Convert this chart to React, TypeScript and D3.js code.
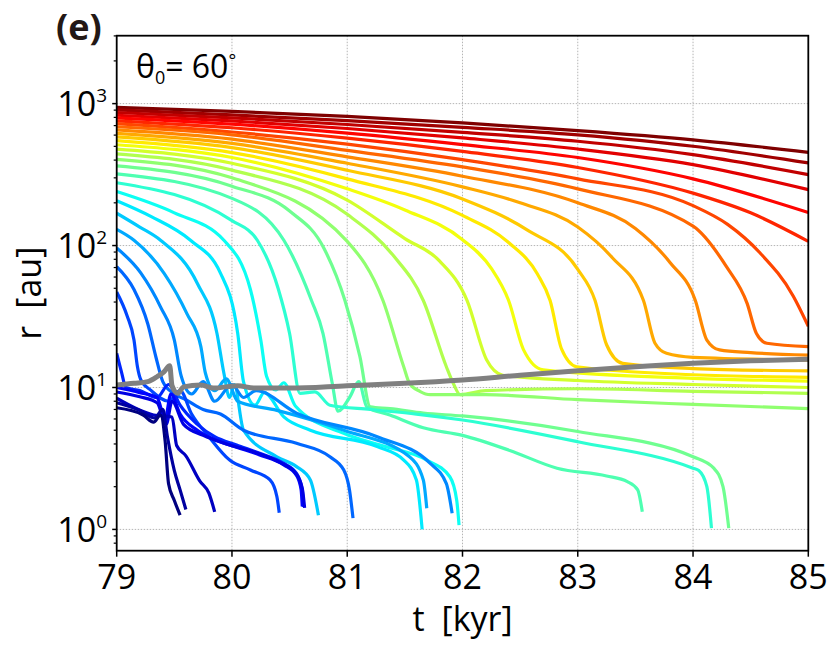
import React from "react";
import * as d3 from "d3";

// particle tracks: [t (kyr), r (au)], top (red) to bottom (blue)
const p00 = [[79, 940], [80, 881], [81, 813], [82, 731], [83, 646], [84, 556], [85, 454]];
const p01 = [[79, 903], [80, 832], [81, 759], [82, 681], [83, 603], [84, 501], [85, 382]];
const p02 = [[79, 866], [80, 794], [81, 713], [82, 628], [83, 543], [84, 437], [85, 316]];
const p03 = [[79, 828], [80, 755], [81, 668], [82, 573], [83, 479], [84, 372], [85, 248]];
const p04 = [[79, 793], [80, 716], [81, 619], [82, 514], [83, 417], [84, 295], [85, 171]];
const p05 = [[79, 757], [80, 676], [81, 571], [82, 461], [83, 355], [84, 234], [84.5, 170], [85, 107]];
const p06 = [[79, 722], [80, 631], [81, 519], [82, 403], [83, 295], [84, 191], [84.3, 141], [84.58, 89], [84.87, 44], [85, 27]];
const p07 = [[79, 687], [80, 603], [81, 468], [82, 358], [83, 251], [84, 137], [84.29, 71], [84.47, 39], [84.55, 24], [84.64, 20.5], [85, 19.4]];
const p08 = [[79, 653], [80, 562], [81, 422], [82, 308], [83, 200], [83.5, 132], [83.8, 76], [84.02, 41], [84.12, 21.6], [84.23, 18.4], [84.5, 17.6], [85, 16.9]];
const p09 = [[79, 618], [80, 525], [81, 380], [82, 259], [82.5, 200], [83, 135], [83.3, 82], [83.57, 41], [83.67, 20.5], [83.77, 17.4], [84, 16.3], [85, 15.6]];
const p10 = [[79, 583], [80, 490], [81, 339], [82, 213], [82.56, 129], [83, 68], [83.15, 41], [83.25, 20], [83.39, 14.8], [84, 13.6], [85, 13.1]];
const p11 = [[79, 548], [80, 452], [81, 295], [82, 163], [82.4, 105], [82.65, 63], [82.76, 41], [82.86, 18.6], [82.99, 14], [84, 12.3], [85, 11.8]];
const p12 = [[79, 513], [80, 417], [81, 251], [81.5, 178], [82, 110], [82.25, 69], [82.4, 41], [82.53, 18.4], [82.7, 13.3], [84, 11.6], [85, 11.1]];
const p13 = [[79, 478], [80, 380], [81, 209], [81.5, 112], [81.8, 78], [82.04, 41], [82.21, 15.6], [82.35, 12.2], [83, 11.2], [84, 10.5], [85, 10]];
const p14 = [[79, 442], [80, 340], [81, 166], [81.4, 85], [81.66, 41], [81.86, 14], [81.92, 10.7], [81.98, 8.9], [82.2, 9.5], [83, 9.8], [84, 9.4], [85, 9.1]];
const p15 = [[79, 405], [80, 300], [81, 107], [81.31, 41], [81.49, 14], [81.54, 10.7], [81.63, 9.4], [81.72, 8.9], [82.2, 8.9], [83, 8.2], [84, 7.6], [85, 7.1]];
const p16 = [[79, 364], [80, 262], [80.5, 175], [80.8, 95], [80.98, 41], [81.11, 16.5], [81.2, 7.3], [81.37, 7.1], [81.66, 6.6], [82, 6.3], [83, 4.9], [84, 3.25], [84.18, 2.7], [84.26, 2.0], [84.31, 1.02]];
const p17 = [[79, 320], [80, 215], [80.45, 109], [80.69, 41], [80.79, 24], [80.87, 10.7], [80.92, 6.8], [81.02, 8.5], [81.1, 11], [81.17, 7.3], [81.37, 6.4], [81.66, 5.2], [82, 4.6], [82.41, 3.6], [82.82, 2.7], [83.25, 2.38], [83.43, 2.17], [83.52, 1.9], [83.56, 1.33]];
const p18 = [[79, 277], [80, 150], [80.22, 109], [80.4, 50], [80.5, 24], [80.59, 9.1], [80.72, 9.3], [80.85, 7.5], [81.2, 7], [81.6, 6.5], [82, 5.9], [83, 4.15], [84, 2.7], [84.05, 2.6], [84.12, 2], [84.16, 1.02]];
const p19 = [[79, 240], [79.5, 170], [79.93, 109], [80.16, 49], [80.25, 21.6], [80.3, 12], [80.38, 9.6], [80.45, 10.8], [80.55, 7.4], [80.97, 4.75], [81.3, 3.9], [81.69, 3.08], [81.89, 2.35], [81.95, 1.6], [81.97, 1.07]];
const p20 = [[79, 207], [79.3, 160], [79.64, 109], [79.9, 64], [80.05, 24], [80.1, 11], [80.2, 7.5], [80.28, 9.2], [80.45, 6.2], [80.68, 5], [81.26, 3.83], [81.49, 3.08], [81.6, 2.23], [81.65, 1]];
const p21 = [[79, 169], [79.2, 135], [79.38, 109], [79.7, 54], [79.87, 24], [79.93, 12.6], [79.98, 8.5], [80.02, 10.5], [80.1, 5], [80.39, 3.25], [80.56, 2.77], [80.68, 2.23], [80.75, 1.26]];
const p22 = [[79, 130], [79.15, 109], [79.41, 64], [79.61, 33], [79.73, 19.4], [79.77, 12.6], [79.85, 9.5], [79.95, 11.5], [80.05, 8], [80.39, 6.9], [80.97, 5], [81.54, 3.25], [81.66, 2.23], [81.69, 1.41]];
const p23 = [[79, 96], [79.21, 64], [79.38, 37], [79.5, 21.6], [79.56, 12], [79.65, 9], [79.75, 11], [79.85, 8], [80, 10.5], [80.1, 8.5], [80.21, 9.5], [80.56, 6.6], [81.26, 4.5], [81.72, 2.92], [81.86, 2.1], [81.91, 1.3]];
const p24 = [[79, 71], [79.15, 49], [79.27, 28], [79.34, 16.4], [79.4, 11], [79.5, 9], [79.6, 8.2], [79.75, 7], [79.9, 6.5], [80.1, 5], [80.56, 4.04], [80.85, 3.25], [80.97, 2.62], [81.02, 1.89], [81.05, 1.2]];
const p25 = [[79, 47], [79.09, 32], [79.15, 21.6], [79.18, 14], [79.21, 11.3], [79.3, 9.5], [79.45, 8], [79.55, 9.5], [79.65, 6.5], [79.8, 4.5], [79.98, 3.08], [80.16, 2.62], [80.33, 2.23], [80.39, 1.7], [80.41, 1.31]];
const p26 = [[79, 17.4], [79.04, 13], [79.08, 10], [79.2, 9.5], [79.35, 8.5], [79.45, 10.5], [79.55, 7.5], [79.7, 5.5], [79.85, 4.5], [80.04, 3.93], [80.24, 3.44], [80.45, 2.92], [80.56, 2.48], [80.61, 1.89], [80.62, 1.44]];
const p27 = [[79, 10], [79.2, 9.2], [79.35, 8.5], [79.42, 6], [79.47, 9], [79.55, 6.5], [79.7, 5], [79.85, 4.3], [80.04, 3.8], [80.24, 3.35], [80.45, 2.85], [80.56, 2.4], [80.6, 1.9], [80.61, 1.45]];
const p28 = [[79, 9.3], [79.2, 8.6], [79.35, 7.8], [79.43, 5.5], [79.48, 8], [79.58, 5.5], [79.75, 4.6], [79.95, 4], [80.2, 3.5], [80.42, 2.95], [80.55, 2.5], [80.61, 1.95], [80.63, 1.42]];
const p29 = [[79, 8.4], [79.32, 6.4], [79.48, 6.2], [79.52, 3.9], [79.6, 3.3], [79.72, 2.2], [79.8, 1.8], [79.85, 1.33]];
const p30 = [[79, 7.8], [79.2, 6.9], [79.33, 6.1], [79.4, 7], [79.44, 4.5], [79.5, 2.6], [79.55, 1.9], [79.6, 1.38]];
const p31 = [[79, 7.2], [79.23, 6.4], [79.32, 5.7], [79.38, 6.4], [79.42, 4.2], [79.45, 2.1], [79.5, 1.6], [79.55, 1.26]];

const particles = [
  p00, p01, p02, p03, p04, p05, p06, p07, p08, p09, p10, p11, p12, p13, p14, p15,
  p16, p17, p18, p19, p20, p21, p22, p23, p24, p25, p26, p27, p28, p29, p30, p31,
];

// gray line
const diskEdge = [[79, 10.4], [79.15, 10.7], [79.27, 11], [79.35, 11.9], [79.41, 12.9], [79.46, 14.2], [79.48, 10.3], [79.53, 9.1], [79.58, 10.1], [79.73, 10.4], [79.84, 9.9], [80.05, 10.3], [80.19, 9.9], [80.5, 9.9], [81, 10.3], [81.5, 10.7], [82, 11.3], [82.5, 12.2], [83, 13.1], [83.5, 14], [84, 14.8], [84.5, 15.4], [85, 15.8]];

const xTicks = [79, 80, 81, 82, 83, 84, 85];
const xGrid = [80, 81, 82, 83, 84];
const yMajor = [1, 10, 100, 1000];
const yExponents = ["0", "1", "2", "3"];
const yMinor = [0.8, 0.9, 2, 3, 4, 5, 6, 7, 8, 9, 20, 30, 40, 50, 60, 70, 80, 90, 200, 300, 400, 500, 600, 700, 800, 900, 2000, 3000];

const FONT = "'Open Sans', 'Noto Sans', sans-serif";

export default function App() {
  const left = 116.7, right = 808.3, top = 35.7, bottom = 550.7;

  const x = d3.scaleLinear().domain([79, 85]).range([left, right]);
  const y = d3.scaleLog().domain([0.708, 3010]).range([bottom, top]);

  const jet = d3
    .scaleLinear<string>()
    .domain([0, 0.125, 0.375, 0.625, 0.875, 1])
    .range(["#00007f", "#0000ff", "#00ffff", "#ffff00", "#ff0000", "#7f0000"])
    .interpolate(d3.interpolateRgb);

  const line = d3
    .line<number[]>()
    .x((d) => x(d[0]))
    .y((d) => y(d[1]))
    .curve(d3.curveMonotoneX);

  const n = particles.length;

  return (
    <svg
      width={831}
      height={649}
      style={{ position: "absolute", left: 0, top: 0, background: "#fff" }}
      fontFamily={FONT}
    >
      <defs>
        <clipPath id="plot">
          <rect x={left} y={top} width={right - left} height={bottom - top} />
        </clipPath>
      </defs>

      {/* grid */}
      <g stroke="#b5b5b5" strokeWidth={1} strokeDasharray="1.5,1.5">
        {xGrid.map((t) => (
          <line key={"gx" + t} x1={x(t)} x2={x(t)} y1={top} y2={bottom} />
        ))}
        {yMajor.map((r) => (
          <line key={"gy" + r} x1={left} x2={right} y1={y(r)} y2={y(r)} />
        ))}
      </g>

      {/* tracks */}
      <g clipPath="url(#plot)" fill="none" strokeWidth={3.2} strokeLinejoin="round">
        {particles.map((p, i) => (
          <path key={i} d={line(p) || ""} stroke={jet(1 - i / (n - 1))} />
        ))}
        <path d={line(diskEdge) || ""} stroke="#808080" strokeWidth={5} />
      </g>

      {/* frame */}
      <rect x={left} y={top} width={right - left} height={bottom - top} fill="none" stroke="#000" strokeWidth={1.8} />

      {/* x axis */}
      <g>
        {xTicks.map((t) => (
          <g key={"xt" + t}>
            <line x1={x(t)} x2={x(t)} y1={bottom} y2={bottom + 6} stroke="#000" strokeWidth={1.5} />
            <text x={x(t)} y={589} textAnchor="middle" fontSize={34} fill="#000">
              {t}
            </text>
          </g>
        ))}
        <text x={(left + right) / 2} y={631} textAnchor="middle" fontSize={34} fill="#000">
          {"t\u2002[kyr]"}
        </text>
      </g>

      {/* y axis */}
      <g>
        {yMajor.map((r, i) => (
          <g key={"yt" + r}>
            <line x1={left - 4.5} x2={left} y1={y(r)} y2={y(r)} stroke="#000" strokeWidth={1.5} />
            <text x={107} y={y(r) + 12.5} textAnchor="end" fontSize={34} fill="#000">
              <tspan>10</tspan>
              <tspan dy={-14} fontSize={19}>
                {yExponents[i]}
              </tspan>
            </text>
          </g>
        ))}
        {yMinor.map((r) => (
          <line key={"ym" + r} x1={left - 3} x2={left} y1={y(r)} y2={y(r)} stroke="#000" strokeWidth={1.2} />
        ))}
        <text
          transform={`translate(41, ${(top + bottom) / 2}) rotate(-90)`}
          textAnchor="middle"
          fontSize={34}
          fill="#000"
        >
          {"r\u2002[au]"}
        </text>
      </g>

      {/* panel label and annotation */}
      <text x={56} y={40} fontSize={36} fontWeight="bold" fill="#231815">
        (e)
      </text>
      <text x={136} y={78} fontSize={32} fill="#000">
        <tspan>θ</tspan>
        <tspan dy={6} fontSize={18}>0</tspan>
        <tspan dy={-6}>= 60</tspan>
        <tspan dy={-11} fontSize={18}>°</tspan>
      </text>
    </svg>
  );
}
